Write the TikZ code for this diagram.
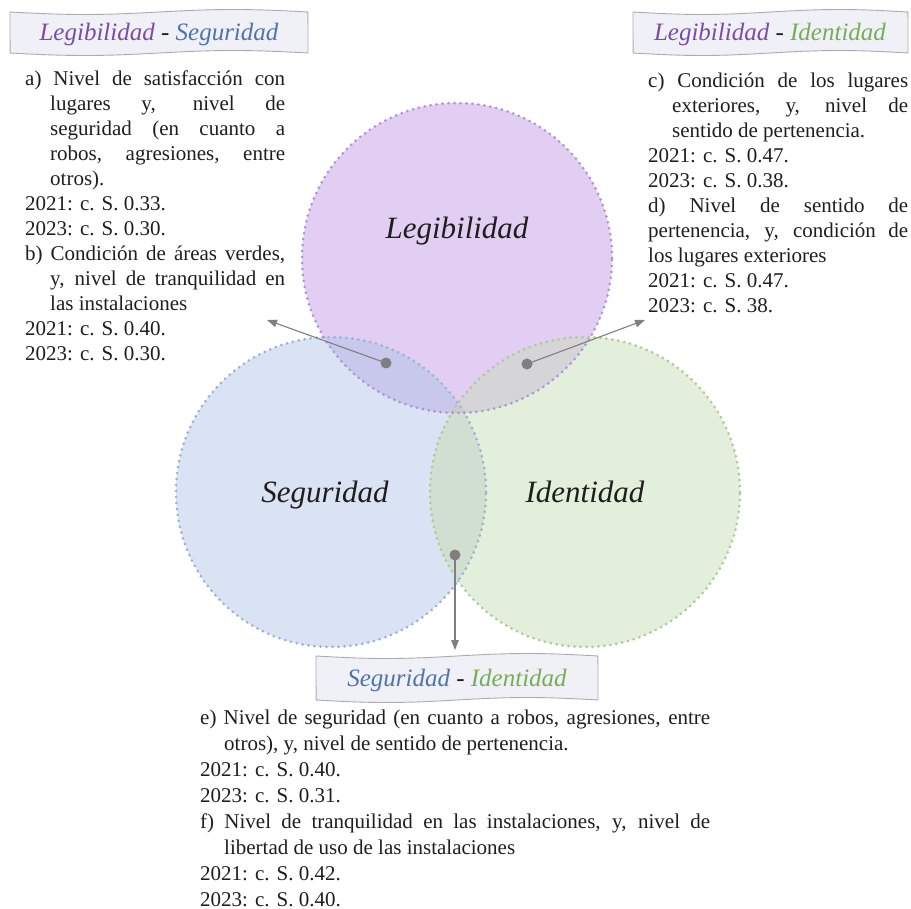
\documentclass[tikz,border=0pt]{standalone}
\usepackage{fontspec}
\setmainfont{Liberation Serif}
\usetikzlibrary{arrows.meta}
\definecolor{legfill}{HTML}{E1CEF2}
\definecolor{segfill}{HTML}{DAE3F3}
\definecolor{idefill}{HTML}{E2EFDA}
\definecolor{lsfill}{HTML}{C7C8EC}
\definecolor{lifill}{HTML}{D5D4D6}
\definecolor{sifill}{HTML}{D1DFD0}
\definecolor{lsifill}{HTML}{CACCD2}
\definecolor{legline}{HTML}{AE95D0}
\definecolor{segline}{HTML}{9EB0D6}
\definecolor{ideline}{HTML}{ADCA98}
\definecolor{legtxt}{HTML}{7B4BA6}
\definecolor{segtxt}{HTML}{4F73B0}
\definecolor{idetxt}{HTML}{76AE57}
\definecolor{boxfill}{HTML}{EFF1F6}
\definecolor{boxline}{HTML}{A9ABB0}
\definecolor{arrgray}{HTML}{7F7F7F}
\definecolor{txt}{HTML}{1E1E1E}
\newcommand\bodyfont{\fontsize{21}{25}\selectfont}
\newcommand\botfont{\fontsize{21}{26}\selectfont}
\newcommand\headfont{\fontsize{25}{29}\selectfont}
\newcommand\labfont{\fontsize{31}{35}\selectfont\itshape}
\newcommand\jl[2]{\makebox[#1][s]{#2}}
\newcommand\wavebox[4]{%
  \filldraw[fill=boxfill,draw=boxline,line width=0.9pt]
    plot[domain=0:1,samples=40,smooth] ({#1+(#3-#1)*\x},{#2+2.5*sin(360*\x)})
    -- plot[domain=1:0,samples=40,smooth] ({#1+(#3-#1)*\x},{#4+2.5*sin(360*\x)})
    -- cycle;}
\begin{document}
\begin{tikzpicture}[x=1pt,y=-1pt,
  dotted border/.style={line width=3pt,dash pattern=on 0pt off 6pt,line cap=round},
  dotn/.style={circle,fill=arrgray,inner sep=0pt,minimum size=11pt},
  arr/.style={draw=arrgray,line width=1.1pt,-{Triangle[length=10pt,width=7.5pt]}},
  block/.style={anchor=base west,inner sep=0pt,text=txt},
  head/.style={anchor=base,inner sep=0pt,font=\headfont},
  lab/.style={anchor=base,inner sep=0pt,font=\labfont,text=txt}]
\useasboundingbox (0,0) rectangle (911,909);
% centres
\coordinate (cL) at (457,258);
\coordinate (cS) at (331,492);
\coordinate (cI) at (585,492);
% fills
\fill[segfill] (cS) circle[radius=155pt];
\fill[idefill] (cI) circle[radius=155pt];
\fill[legfill] (cL) circle[radius=155pt];
\begin{scope}
  \clip (cL) circle[radius=155pt];
  \fill[lsfill] (cS) circle[radius=155pt];
  \fill[lifill] (cI) circle[radius=155pt];
\end{scope}
\begin{scope}
  \clip (cS) circle[radius=155pt];
  \fill[sifill] (cI) circle[radius=155pt];
  \clip (cI) circle[radius=155pt];
  \fill[lsifill] (cL) circle[radius=155pt];
\end{scope}
% dotted borders
\draw[segline,dotted border] (cS) circle[radius=155pt];
\draw[ideline,dotted border] (cI) circle[radius=155pt];
\draw[legline,dotted border] (cL) circle[radius=155pt];
% circle labels
\node[lab] (nL) at (457,239) {Legibilidad};
\node[lab] (nS) at (325,502) {Seguridad};
\node[lab] (nI) at (585,502) {Identidad};
% header boxes
\wavebox{10}{12}{308}{53}
\wavebox{633}{12}{908}{53}
\wavebox{316}{656}{598}{700}
\node[head] (hLS) at (159,41) {\textcolor{legtxt}{\itshape Legibilidad} \textcolor{txt}{-} \textcolor{segtxt}{\itshape Seguridad}};
\node[head] (hLI) at (770,41) {\textcolor{legtxt}{\itshape Legibilidad} \textcolor{txt}{-} \textcolor{idetxt}{\itshape Identidad}};
\node[head] (hSI) at (457,686) {\textcolor{segtxt}{\itshape Seguridad} \textcolor{txt}{-} \textcolor{idetxt}{\itshape Identidad}};
% text blocks
\node[block] (tLS) at (25,86) {\parbox[t]{260pt}{\bodyfont
\jl{260pt}{a) Nivel de satisfacción con}\\
\hspace*{25pt}\jl{235pt}{lugares y, nivel de}\\
\hspace*{25pt}\jl{235pt}{seguridad (en cuanto a}\\
\hspace*{25pt}\jl{235pt}{robos, agresiones, entre}\\
\hspace*{25pt}otros).\\
2021: c. S. 0.33.\\
2023: c. S. 0.30.\\
\jl{260pt}{b) Condición de áreas verdes,}\\
\hspace*{25pt}\jl{235pt}{y, nivel de tranquilidad en}\\
\hspace*{25pt}las instalaciones\\
2021: c. S. 0.40.\\
2023: c. S. 0.30.}};
\node[block] (tLI) at (648,88) {\parbox[t]{260pt}{\bodyfont
\jl{260pt}{c) Condición de los lugares}\\
\hspace*{24pt}\jl{236pt}{exteriores, y, nivel de}\\
\hspace*{24pt}sentido de pertenencia.\\
2021: c. S. 0.47.\\
2023: c. S. 0.38.\\
\jl{260pt}{d) Nivel de sentido de}\\
\jl{260pt}{pertenencia, y, condición de}\\
los lugares exteriores\\
2021: c. S. 0.47.\\
2023: c. S. 38.}};
\node[block] (tSI) at (200,724) {\parbox[t]{510pt}{\botfont
\jl{510pt}{e) Nivel de seguridad (en cuanto a robos, agresiones, entre}\\
\hspace*{24pt}otros), y, nivel de sentido de pertenencia.\\
2021: c. S. 0.40.\\
2023: c. S. 0.31.\\
\jl{510pt}{f) Nivel de tranquilidad en las instalaciones, y, nivel de}\\
\hspace*{24pt}libertad de uso de las instalaciones\\
2021: c. S. 0.42.\\
2023: c. S. 0.40.}};
% dots and arrows
\coordinate (aLS) at (267,320);
\coordinate (aLI) at (645,320);
\coordinate (aSI) at (455,650);
\node[dotn] (dLS) at (386,363) {};
\node[dotn] (dLI) at (527,364) {};
\node[dotn] (dSI) at (455,555) {};
\draw[arr] (dLS.center) -- (aLS);
\draw[arr] (dLI.center) -- (aLI);
\draw[arr] (dSI.center) -- (aSI);
\end{tikzpicture}
\end{document}
